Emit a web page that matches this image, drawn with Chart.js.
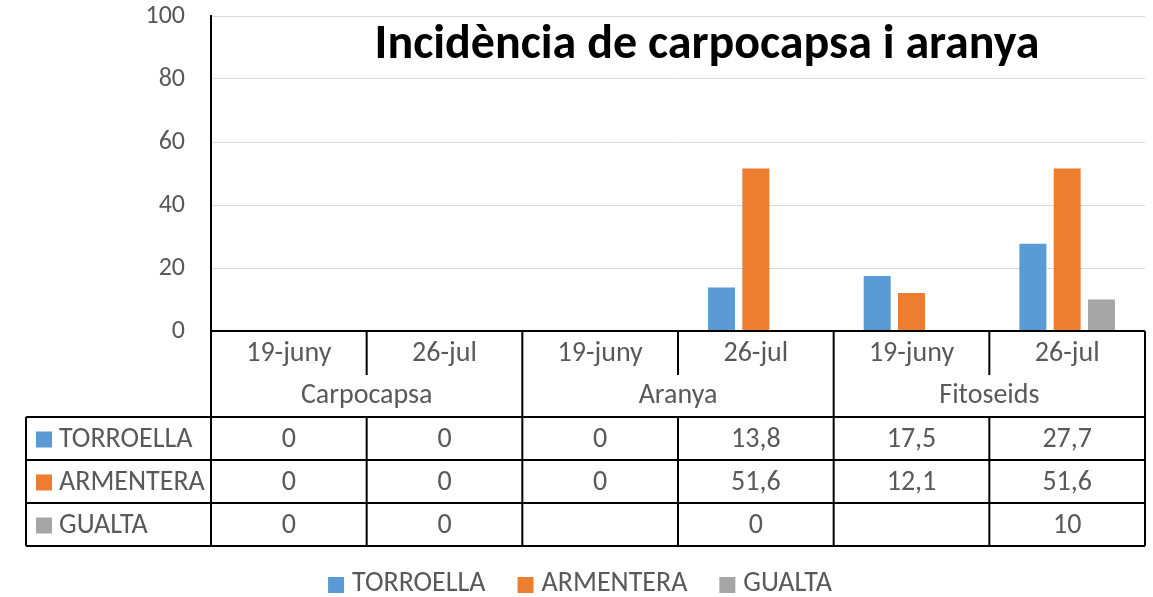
<!DOCTYPE html>
<html>
<head>
<meta charset="utf-8">
<script src="https://cdn.jsdelivr.net/npm/chart.js@4"></script>
<style>
  html, body { margin: 0; padding: 0; background: #fff; }
</style>
</head>
<body>
<canvas id="chart" width="1153" height="597"></canvas>
<script>
// chart data
const dates = ['19-juny', '26-jul', '19-juny', '26-jul', '19-juny', '26-jul'];
const groups = ['Carpocapsa', 'Aranya', 'Fitoseids'];
const seriesNames = ['TORROELLA', 'ARMENTERA', 'GUALTA'];
const torroella = [0, 0, 0, 13.8, 17.5, 27.7];
const armentera = [0, 0, 0, 51.6, 12.1, 51.6];
const gualta = [0, 0, null, 0, null, 10];
const yTicks = [0, 20, 40, 60, 80, 100];
const colors = ['#5b9bd5', '#ed7d31', '#a5a5a5'];
const title = 'Incidència de carpocapsa i aranya';

const FONT = 'Carlito, Lato, sans-serif';
const GREY = '#595959';
Chart.defaults.font.family = FONT;

const fmt = v => (v === null || v === undefined) ? '' : String(v).replace('.', ',');

// draws title, data table and bottom legend
const tablePlugin = {
  id: 'dataTable',
  afterDraw(chart) {
    const ctx = chart.ctx;
    const xs = chart.scales.x;
    const area = chart.chartArea;
    const L = area.left, R = area.right, B = area.bottom;
    const band = xs.getPixelForValue(1) - xs.getPixelForValue(0);
    const edge = i => xs.getPixelForValue(0) - band / 2 + i * band;
    const tableLeft = 26;
    const dateBottom = 375;
    const rows = [417, 460, 503, 546];

    ctx.save();
    // title
    ctx.fillStyle = '#000';
    ctx.font = 'bold 48px ' + FONT;
    ctx.textAlign = 'center';
    ctx.textBaseline = 'middle';
    ctx.fillText(title, 707, 46);

    // lines
    ctx.strokeStyle = '#000';
    ctx.lineWidth = 2;
    ctx.beginPath();
    ctx.moveTo(L, B); ctx.lineTo(R, B);
    ctx.moveTo(L, area.top); ctx.lineTo(L, rows[3]);
    ctx.moveTo(R, B); ctx.lineTo(R, rows[3]);
    ctx.moveTo(tableLeft, rows[0]); ctx.lineTo(tableLeft, rows[3]);
    rows.forEach(y => { ctx.moveTo(tableLeft, y); ctx.lineTo(R, y); });
    for (let i = 1; i < dates.length; i++) {
      const x = edge(i);
      if (i % 2 === 1) {
        ctx.moveTo(x, B); ctx.lineTo(x, dateBottom);
        ctx.moveTo(x, rows[0]); ctx.lineTo(x, rows[3]);
      } else {
        ctx.moveTo(x, B); ctx.lineTo(x, rows[3]);
      }
    }
    ctx.stroke();

    // text
    ctx.fillStyle = GREY;
    ctx.font = '28px ' + FONT;
    dates.forEach((d, i) => ctx.fillText(d, xs.getPixelForValue(i), 354));
    groups.forEach((g, i) => ctx.fillText(g, (edge(2 * i) + edge(2 * i + 2)) / 2, 396));

    chart.data.datasets.forEach((ds, r) => {
      const yc = (rows[r] + rows[r + 1]) / 2 + 1;
      ctx.fillStyle = ds.backgroundColor;
      ctx.fillRect(36, yc - 8, 16, 16);
      ctx.fillStyle = GREY;
      ctx.textAlign = 'left';
      ctx.fillText(ds.label, 59, yc);
      ctx.textAlign = 'center';
      ds.data.forEach((v, i) => ctx.fillText(fmt(v), xs.getPixelForValue(i), yc));
    });

    // legend
    const sq = 16, gapText = 8, gapItem = 32, ly = 584;
    const widths = chart.data.datasets.map(ds => ctx.measureText(ds.label).width);
    let total = widths.reduce((a, w) => a + sq + gapText + w, 0) + gapItem * (widths.length - 1);
    let x = 580 - total / 2;
    ctx.textAlign = 'left';
    chart.data.datasets.forEach((ds, i) => {
      ctx.fillStyle = ds.backgroundColor;
      ctx.fillRect(x, ly - 7, sq, sq);
      ctx.fillStyle = GREY;
      ctx.fillText(ds.label, x + sq + gapText, ly);
      x += sq + gapText + widths[i] + gapItem;
    });
    ctx.restore();
  }
};

new Chart(document.getElementById('chart'), {
  type: 'bar',
  data: {
    labels: dates,
    datasets: [torroella, armentera, gualta].map((d, i) => ({
      label: seriesNames[i],
      data: d,
      backgroundColor: colors[i],
      borderWidth: 0,
      categoryPercentage: 0.661,
      barPercentage: 0.787
    }))
  },
  options: {
    responsive: false,
    animation: false,
    devicePixelRatio: 1,
    layout: { padding: { top: 16, right: 8, bottom: 266, left: 0 } },
    plugins: {
      legend: { display: false },
      tooltip: { enabled: false }
    },
    scales: {
      x: { display: false },
      y: {
        min: 0,
        max: 100,
        afterBuildTicks: scale => { scale.ticks = yTicks.map(v => ({ value: v })); },
        afterFit: scale => { scale.width = 211; scale.paddingTop = 0; scale.paddingBottom = 0; },
        ticks: { color: GREY, font: { size: 26 }, padding: 26 },
        grid: { color: '#d9d9d9', lineWidth: 1, drawTicks: false },
        border: { display: true, color: '#000', width: 2 }
      }
    }
  },
  plugins: [tablePlugin]
});
</script>
</body>
</html>
